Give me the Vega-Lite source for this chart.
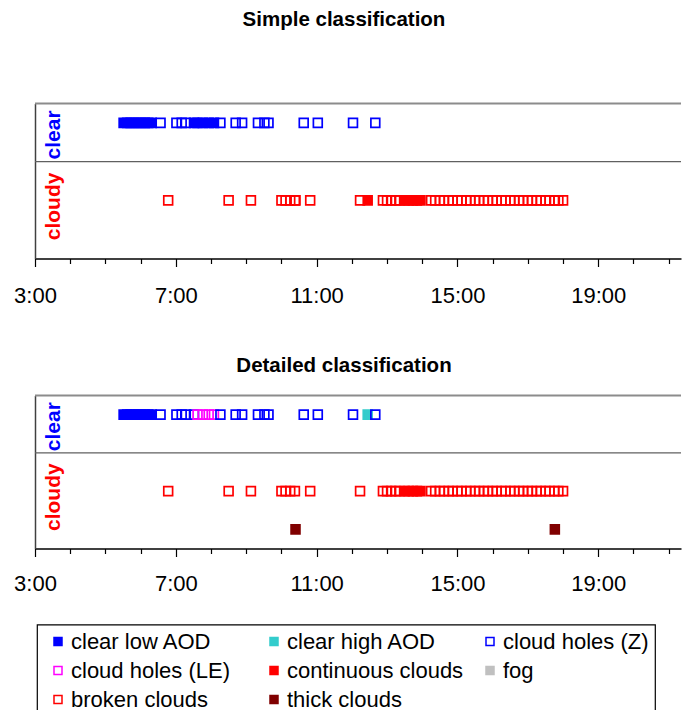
{
  "$schema": "https://vega.github.io/schema/vega-lite/v6.json",
  "padding": {"left": 13, "top": 9.5, "right": 0, "bottom": 0},
  "data": {
    "format": {"parse": {"time": "date:'%H:%M'"}},
    "values": [
      {"panel": "simple", "time": "05:31", "class": "clear low AOD", "sky": "clear"},
      {"panel": "simple", "time": "05:37", "class": "clear low AOD", "sky": "clear"},
      {"panel": "simple", "time": "05:43", "class": "clear low AOD", "sky": "clear"},
      {"panel": "simple", "time": "05:49", "class": "clear low AOD", "sky": "clear"},
      {"panel": "simple", "time": "05:55", "class": "clear low AOD", "sky": "clear"},
      {"panel": "simple", "time": "06:01", "class": "clear low AOD", "sky": "clear"},
      {"panel": "simple", "time": "06:07", "class": "clear low AOD", "sky": "clear"},
      {"panel": "simple", "time": "06:13", "class": "clear low AOD", "sky": "clear"},
      {"panel": "simple", "time": "06:19", "class": "clear low AOD", "sky": "clear"},
      {"panel": "simple", "time": "07:31", "class": "clear low AOD", "sky": "clear"},
      {"panel": "simple", "time": "07:37", "class": "clear low AOD", "sky": "clear"},
      {"panel": "simple", "time": "07:46", "class": "clear low AOD", "sky": "clear"},
      {"panel": "simple", "time": "07:56", "class": "clear low AOD", "sky": "clear"},
      {"panel": "simple", "time": "08:05", "class": "clear low AOD", "sky": "clear"},
      {"panel": "simple", "time": "06:34", "class": "cloud holes (Z)", "sky": "clear"},
      {"panel": "simple", "time": "07:01", "class": "cloud holes (Z)", "sky": "clear"},
      {"panel": "simple", "time": "07:10", "class": "cloud holes (Z)", "sky": "clear"},
      {"panel": "simple", "time": "07:17", "class": "cloud holes (Z)", "sky": "clear"},
      {"panel": "simple", "time": "08:16", "class": "cloud holes (Z)", "sky": "clear"},
      {"panel": "simple", "time": "08:42", "class": "cloud holes (Z)", "sky": "clear"},
      {"panel": "simple", "time": "08:53", "class": "cloud holes (Z)", "sky": "clear"},
      {"panel": "simple", "time": "09:20", "class": "cloud holes (Z)", "sky": "clear"},
      {"panel": "simple", "time": "09:31", "class": "cloud holes (Z)", "sky": "clear"},
      {"panel": "simple", "time": "09:38", "class": "cloud holes (Z)", "sky": "clear"},
      {"panel": "simple", "time": "10:38", "class": "cloud holes (Z)", "sky": "clear"},
      {"panel": "simple", "time": "11:02", "class": "cloud holes (Z)", "sky": "clear"},
      {"panel": "simple", "time": "12:02", "class": "cloud holes (Z)", "sky": "clear"},
      {"panel": "simple", "time": "12:40", "class": "cloud holes (Z)", "sky": "clear"},
      {"panel": "simple", "time": "06:47", "class": "broken clouds", "sky": "cloudy"},
      {"panel": "simple", "time": "08:30", "class": "broken clouds", "sky": "cloudy"},
      {"panel": "simple", "time": "09:08", "class": "broken clouds", "sky": "cloudy"},
      {"panel": "simple", "time": "10:00", "class": "broken clouds", "sky": "cloudy"},
      {"panel": "simple", "time": "10:07", "class": "broken clouds", "sky": "cloudy"},
      {"panel": "simple", "time": "10:15", "class": "broken clouds", "sky": "cloudy"},
      {"panel": "simple", "time": "10:23", "class": "broken clouds", "sky": "cloudy"},
      {"panel": "simple", "time": "10:24", "class": "broken clouds", "sky": "cloudy"},
      {"panel": "simple", "time": "10:49", "class": "broken clouds", "sky": "cloudy"},
      {"panel": "simple", "time": "12:14", "class": "broken clouds", "sky": "cloudy"},
      {"panel": "simple", "time": "12:27", "class": "continuous clouds", "sky": "cloudy"},
      {"panel": "simple", "time": "12:53", "class": "broken clouds", "sky": "cloudy"},
      {"panel": "simple", "time": "13:00", "class": "broken clouds", "sky": "cloudy"},
      {"panel": "simple", "time": "13:07", "class": "broken clouds", "sky": "cloudy"},
      {"panel": "simple", "time": "13:14", "class": "broken clouds", "sky": "cloudy"},
      {"panel": "simple", "time": "13:21", "class": "broken clouds", "sky": "cloudy"},
      {"panel": "simple", "time": "13:30", "class": "continuous clouds", "sky": "cloudy"},
      {"panel": "simple", "time": "13:37", "class": "continuous clouds", "sky": "cloudy"},
      {"panel": "simple", "time": "13:44", "class": "continuous clouds", "sky": "cloudy"},
      {"panel": "simple", "time": "13:51", "class": "continuous clouds", "sky": "cloudy"},
      {"panel": "simple", "time": "13:57", "class": "continuous clouds", "sky": "cloudy"},
      {"panel": "simple", "time": "14:15", "class": "broken clouds", "sky": "cloudy"},
      {"panel": "simple", "time": "14:22", "class": "broken clouds", "sky": "cloudy"},
      {"panel": "simple", "time": "14:30", "class": "broken clouds", "sky": "cloudy"},
      {"panel": "simple", "time": "14:37", "class": "broken clouds", "sky": "cloudy"},
      {"panel": "simple", "time": "14:45", "class": "broken clouds", "sky": "cloudy"},
      {"panel": "simple", "time": "14:52", "class": "broken clouds", "sky": "cloudy"},
      {"panel": "simple", "time": "15:00", "class": "broken clouds", "sky": "cloudy"},
      {"panel": "simple", "time": "15:07", "class": "broken clouds", "sky": "cloudy"},
      {"panel": "simple", "time": "15:15", "class": "broken clouds", "sky": "cloudy"},
      {"panel": "simple", "time": "15:22", "class": "broken clouds", "sky": "cloudy"},
      {"panel": "simple", "time": "15:30", "class": "broken clouds", "sky": "cloudy"},
      {"panel": "simple", "time": "15:37", "class": "broken clouds", "sky": "cloudy"},
      {"panel": "simple", "time": "15:45", "class": "broken clouds", "sky": "cloudy"},
      {"panel": "simple", "time": "15:52", "class": "broken clouds", "sky": "cloudy"},
      {"panel": "simple", "time": "16:00", "class": "broken clouds", "sky": "cloudy"},
      {"panel": "simple", "time": "16:07", "class": "broken clouds", "sky": "cloudy"},
      {"panel": "simple", "time": "16:15", "class": "broken clouds", "sky": "cloudy"},
      {"panel": "simple", "time": "16:22", "class": "broken clouds", "sky": "cloudy"},
      {"panel": "simple", "time": "16:30", "class": "broken clouds", "sky": "cloudy"},
      {"panel": "simple", "time": "16:37", "class": "broken clouds", "sky": "cloudy"},
      {"panel": "simple", "time": "16:45", "class": "broken clouds", "sky": "cloudy"},
      {"panel": "simple", "time": "16:52", "class": "broken clouds", "sky": "cloudy"},
      {"panel": "simple", "time": "17:00", "class": "broken clouds", "sky": "cloudy"},
      {"panel": "simple", "time": "17:07", "class": "broken clouds", "sky": "cloudy"},
      {"panel": "simple", "time": "17:15", "class": "broken clouds", "sky": "cloudy"},
      {"panel": "simple", "time": "17:22", "class": "broken clouds", "sky": "cloudy"},
      {"panel": "simple", "time": "17:30", "class": "broken clouds", "sky": "cloudy"},
      {"panel": "simple", "time": "17:37", "class": "broken clouds", "sky": "cloudy"},
      {"panel": "simple", "time": "17:45", "class": "broken clouds", "sky": "cloudy"},
      {"panel": "simple", "time": "17:46", "class": "broken clouds", "sky": "cloudy"},
      {"panel": "simple", "time": "17:52", "class": "broken clouds", "sky": "cloudy"},
      {"panel": "simple", "time": "18:00", "class": "broken clouds", "sky": "cloudy"},

      {"panel": "detailed", "time": "05:31", "class": "clear low AOD", "sky": "clear"},
      {"panel": "detailed", "time": "05:37", "class": "clear low AOD", "sky": "clear"},
      {"panel": "detailed", "time": "05:43", "class": "clear low AOD", "sky": "clear"},
      {"panel": "detailed", "time": "05:49", "class": "clear low AOD", "sky": "clear"},
      {"panel": "detailed", "time": "05:55", "class": "clear low AOD", "sky": "clear"},
      {"panel": "detailed", "time": "06:01", "class": "clear low AOD", "sky": "clear"},
      {"panel": "detailed", "time": "06:07", "class": "clear low AOD", "sky": "clear"},
      {"panel": "detailed", "time": "06:13", "class": "clear low AOD", "sky": "clear"},
      {"panel": "detailed", "time": "06:19", "class": "clear low AOD", "sky": "clear"},
      {"panel": "detailed", "time": "06:34", "class": "cloud holes (Z)", "sky": "clear"},
      {"panel": "detailed", "time": "07:01", "class": "cloud holes (Z)", "sky": "clear"},
      {"panel": "detailed", "time": "07:10", "class": "cloud holes (Z)", "sky": "clear"},
      {"panel": "detailed", "time": "07:17", "class": "cloud holes (Z)", "sky": "clear"},
      {"panel": "detailed", "time": "07:31", "class": "cloud holes (Z)", "sky": "clear"},
      {"panel": "detailed", "time": "07:37", "class": "cloud holes (LE)", "sky": "clear"},
      {"panel": "detailed", "time": "07:46", "class": "cloud holes (LE)", "sky": "clear"},
      {"panel": "detailed", "time": "07:56", "class": "cloud holes (LE)", "sky": "clear"},
      {"panel": "detailed", "time": "08:05", "class": "cloud holes (LE)", "sky": "clear"},
      {"panel": "detailed", "time": "08:16", "class": "cloud holes (Z)", "sky": "clear"},
      {"panel": "detailed", "time": "08:42", "class": "cloud holes (Z)", "sky": "clear"},
      {"panel": "detailed", "time": "08:53", "class": "cloud holes (Z)", "sky": "clear"},
      {"panel": "detailed", "time": "09:20", "class": "cloud holes (Z)", "sky": "clear"},
      {"panel": "detailed", "time": "09:31", "class": "cloud holes (Z)", "sky": "clear"},
      {"panel": "detailed", "time": "09:38", "class": "cloud holes (Z)", "sky": "clear"},
      {"panel": "detailed", "time": "10:38", "class": "cloud holes (Z)", "sky": "clear"},
      {"panel": "detailed", "time": "11:02", "class": "cloud holes (Z)", "sky": "clear"},
      {"panel": "detailed", "time": "12:02", "class": "cloud holes (Z)", "sky": "clear"},
      {"panel": "detailed", "time": "12:27", "class": "clear high AOD", "sky": "clear"},
      {"panel": "detailed", "time": "12:40", "class": "cloud holes (Z)", "sky": "clear"},
      {"panel": "detailed", "time": "06:47", "class": "broken clouds", "sky": "cloudy"},
      {"panel": "detailed", "time": "08:30", "class": "broken clouds", "sky": "cloudy"},
      {"panel": "detailed", "time": "09:08", "class": "broken clouds", "sky": "cloudy"},
      {"panel": "detailed", "time": "10:00", "class": "broken clouds", "sky": "cloudy"},
      {"panel": "detailed", "time": "10:07", "class": "broken clouds", "sky": "cloudy"},
      {"panel": "detailed", "time": "10:15", "class": "broken clouds", "sky": "cloudy"},
      {"panel": "detailed", "time": "10:23", "class": "broken clouds", "sky": "cloudy"},
      {"panel": "detailed", "time": "10:49", "class": "broken clouds", "sky": "cloudy"},
      {"panel": "detailed", "time": "12:14", "class": "broken clouds", "sky": "cloudy"},
      {"panel": "detailed", "time": "12:53", "class": "broken clouds", "sky": "cloudy"},
      {"panel": "detailed", "time": "13:00", "class": "broken clouds", "sky": "cloudy"},
      {"panel": "detailed", "time": "13:07", "class": "broken clouds", "sky": "cloudy"},
      {"panel": "detailed", "time": "13:14", "class": "broken clouds", "sky": "cloudy"},
      {"panel": "detailed", "time": "13:21", "class": "broken clouds", "sky": "cloudy"},
      {"panel": "detailed", "time": "13:30", "class": "continuous clouds", "sky": "cloudy"},
      {"panel": "detailed", "time": "13:37", "class": "continuous clouds", "sky": "cloudy"},
      {"panel": "detailed", "time": "13:44", "class": "continuous clouds", "sky": "cloudy"},
      {"panel": "detailed", "time": "13:51", "class": "continuous clouds", "sky": "cloudy"},
      {"panel": "detailed", "time": "13:57", "class": "continuous clouds", "sky": "cloudy"},
      {"panel": "detailed", "time": "14:15", "class": "broken clouds", "sky": "cloudy"},
      {"panel": "detailed", "time": "14:22", "class": "broken clouds", "sky": "cloudy"},
      {"panel": "detailed", "time": "14:30", "class": "broken clouds", "sky": "cloudy"},
      {"panel": "detailed", "time": "14:37", "class": "broken clouds", "sky": "cloudy"},
      {"panel": "detailed", "time": "14:45", "class": "broken clouds", "sky": "cloudy"},
      {"panel": "detailed", "time": "14:52", "class": "broken clouds", "sky": "cloudy"},
      {"panel": "detailed", "time": "15:00", "class": "broken clouds", "sky": "cloudy"},
      {"panel": "detailed", "time": "15:07", "class": "broken clouds", "sky": "cloudy"},
      {"panel": "detailed", "time": "15:15", "class": "broken clouds", "sky": "cloudy"},
      {"panel": "detailed", "time": "15:22", "class": "broken clouds", "sky": "cloudy"},
      {"panel": "detailed", "time": "15:30", "class": "broken clouds", "sky": "cloudy"},
      {"panel": "detailed", "time": "15:37", "class": "broken clouds", "sky": "cloudy"},
      {"panel": "detailed", "time": "15:45", "class": "broken clouds", "sky": "cloudy"},
      {"panel": "detailed", "time": "15:52", "class": "broken clouds", "sky": "cloudy"},
      {"panel": "detailed", "time": "16:00", "class": "broken clouds", "sky": "cloudy"},
      {"panel": "detailed", "time": "16:07", "class": "broken clouds", "sky": "cloudy"},
      {"panel": "detailed", "time": "16:15", "class": "broken clouds", "sky": "cloudy"},
      {"panel": "detailed", "time": "16:22", "class": "broken clouds", "sky": "cloudy"},
      {"panel": "detailed", "time": "16:30", "class": "broken clouds", "sky": "cloudy"},
      {"panel": "detailed", "time": "16:37", "class": "broken clouds", "sky": "cloudy"},
      {"panel": "detailed", "time": "16:45", "class": "broken clouds", "sky": "cloudy"},
      {"panel": "detailed", "time": "16:52", "class": "broken clouds", "sky": "cloudy"},
      {"panel": "detailed", "time": "17:00", "class": "broken clouds", "sky": "cloudy"},
      {"panel": "detailed", "time": "17:07", "class": "broken clouds", "sky": "cloudy"},
      {"panel": "detailed", "time": "17:15", "class": "broken clouds", "sky": "cloudy"},
      {"panel": "detailed", "time": "17:22", "class": "broken clouds", "sky": "cloudy"},
      {"panel": "detailed", "time": "17:30", "class": "broken clouds", "sky": "cloudy"},
      {"panel": "detailed", "time": "17:37", "class": "broken clouds", "sky": "cloudy"},
      {"panel": "detailed", "time": "17:45", "class": "broken clouds", "sky": "cloudy"},
      {"panel": "detailed", "time": "17:52", "class": "broken clouds", "sky": "cloudy"},
      {"panel": "detailed", "time": "18:00", "class": "broken clouds", "sky": "cloudy"},
      {"panel": "detailed", "time": "10:24", "class": "thick clouds", "sky": "thick"},
      {"panel": "detailed", "time": "17:46", "class": "thick clouds", "sky": "thick"}
    ]
  },
  "spacing": 49,
  "vconcat": [
    {
      "title": {"text": "Simple classification", "offset": 72},
      "width": 646,
      "height": 155,
      "layer": [
        {
          "data": {"values": [{}]},
          "mark": {"type": "rule", "color": "#8c8c8c", "strokeWidth": 2},
          "encoding": {"y": {"datum": "clear", "type": "nominal", "bandPosition": 0}}
        },
        {
          "data": {"values": [{}]},
          "mark": {"type": "rule", "color": "#606060", "strokeWidth": 1.2},
          "encoding": {"y": {"datum": "sep", "type": "nominal", "bandPosition": 0.5}}
        },
        {
          "transform": [{"filter": "datum.panel == 'simple'"}],
          "mark": {"type": "point", "shape": "square", "size": 78, "strokeWidth": 1.7, "opacity": 1},
          "encoding": {
            "x": {
              "field": "time", "type": "temporal",
              "scale": {"domain": [{"year": 1900, "month": 1, "date": 1, "hours": 3}, {"year": 1900, "month": 1, "date": 1, "hours": 21, "minutes": 21}]},
              "axis": {
                "title": null, "grid": false,
                "values": [
                  {"year": 1900, "month": 1, "date": 1, "hours": 3}, {"year": 1900, "month": 1, "date": 1, "hours": 4}, {"year": 1900, "month": 1, "date": 1, "hours": 5},
                  {"year": 1900, "month": 1, "date": 1, "hours": 6}, {"year": 1900, "month": 1, "date": 1, "hours": 7}, {"year": 1900, "month": 1, "date": 1, "hours": 8},
                  {"year": 1900, "month": 1, "date": 1, "hours": 9}, {"year": 1900, "month": 1, "date": 1, "hours": 10}, {"year": 1900, "month": 1, "date": 1, "hours": 11},
                  {"year": 1900, "month": 1, "date": 1, "hours": 12}, {"year": 1900, "month": 1, "date": 1, "hours": 13}, {"year": 1900, "month": 1, "date": 1, "hours": 14},
                  {"year": 1900, "month": 1, "date": 1, "hours": 15}, {"year": 1900, "month": 1, "date": 1, "hours": 16}, {"year": 1900, "month": 1, "date": 1, "hours": 17},
                  {"year": 1900, "month": 1, "date": 1, "hours": 18}, {"year": 1900, "month": 1, "date": 1, "hours": 19}, {"year": 1900, "month": 1, "date": 1, "hours": 20},
                  {"year": 1900, "month": 1, "date": 1, "hours": 21}
                ],
                "labelExpr": "hours(datum.value) % 4 == 3 ? timeFormat(datum.value, '%-H:%M') : ''",
                "tickSize": {"condition": {"test": "hours(datum.value) % 4 == 3", "value": 8}, "value": 5},
                "tickColor": "black", "tickWidth": 1.2,
                "domainColor": "black", "domainWidth": 1.5,
                "labelFont": "Liberation Sans", "labelFontSize": 22, "labelColor": "black",
                "labelPadding": 18.5, "labelOverlap": false, "labelFlush": false
              }
            },
            "y": {
              "field": "sky", "type": "nominal", "bandPosition": 0.5,
              "scale": {"type": "band", "domain": ["clear", "sep", "cloudy", "thick"], "paddingInner": 0, "paddingOuter": 0},
              "axis": {
                "title": null, "ticks": false, "tickSize": 0,
                "domainColor": "#404040", "domainWidth": 1.5,
                "labelExpr": "datum.value == 'clear' || datum.value == 'cloudy' ? datum.value : ''",
                "labelAngle": -90, "labelAlign": "center", "labelBaseline": "alphabetic",
                "labelPadding": -24,
                "labelOffset": {"condition": {"test": "datum.value == 'clear'", "value": 12}, "value": 6},
                "labelColor": {"condition": {"test": "datum.value == 'clear'", "value": "#0000ff"}, "value": "#ff0000"},
                "labelFont": "Liberation Sans", "labelFontSize": 21, "labelFontWeight": "bold"
              }
            },
            "fill": {
              "field": "class", "type": "nominal",
              "scale": {
                "domain": ["clear low AOD", "clear high AOD", "cloud holes (Z)", "cloud holes (LE)", "continuous clouds", "fog", "broken clouds", "thick clouds"],
                "range": ["#0000ff", "#33cccc", "transparent", "transparent", "#ff0000", "#c0c0c0", "transparent", "#800000"]
              },
              "legend": {"title": null}
            },
            "stroke": {
              "field": "class", "type": "nominal",
              "scale": {
                "domain": ["clear low AOD", "clear high AOD", "cloud holes (Z)", "cloud holes (LE)", "continuous clouds", "fog", "broken clouds", "thick clouds"],
                "range": ["#0000ff", "#33cccc", "#0000ff", "#ff00ff", "#ff0000", "#c0c0c0", "#ff0000", "#800000"]
              },
              "legend": {"title": null}
            }
          }
        }
      ]
    },
    {
      "title": {"text": "Detailed classification", "offset": 18},
      "width": 646,
      "height": 153,
      "layer": [
        {
          "data": {"values": [{}]},
          "mark": {"type": "rule", "color": "#8c8c8c", "strokeWidth": 2},
          "encoding": {"y": {"datum": "clear", "type": "nominal", "bandPosition": 0}}
        },
        {
          "data": {"values": [{}]},
          "mark": {"type": "rule", "color": "#606060", "strokeWidth": 1.2},
          "encoding": {"y": {"datum": "sep", "type": "nominal", "bandPosition": 0.5}}
        },
        {
          "transform": [{"filter": "datum.panel == 'detailed'"}],
          "mark": {"type": "point", "shape": "square", "size": 78, "strokeWidth": 1.7, "opacity": 1},
          "encoding": {
            "x": {
              "field": "time", "type": "temporal",
              "scale": {"domain": [{"year": 1900, "month": 1, "date": 1, "hours": 3}, {"year": 1900, "month": 1, "date": 1, "hours": 21, "minutes": 21}]},
              "axis": {
                "title": null, "grid": false,
                "values": [
                  {"year": 1900, "month": 1, "date": 1, "hours": 3}, {"year": 1900, "month": 1, "date": 1, "hours": 4}, {"year": 1900, "month": 1, "date": 1, "hours": 5},
                  {"year": 1900, "month": 1, "date": 1, "hours": 6}, {"year": 1900, "month": 1, "date": 1, "hours": 7}, {"year": 1900, "month": 1, "date": 1, "hours": 8},
                  {"year": 1900, "month": 1, "date": 1, "hours": 9}, {"year": 1900, "month": 1, "date": 1, "hours": 10}, {"year": 1900, "month": 1, "date": 1, "hours": 11},
                  {"year": 1900, "month": 1, "date": 1, "hours": 12}, {"year": 1900, "month": 1, "date": 1, "hours": 13}, {"year": 1900, "month": 1, "date": 1, "hours": 14},
                  {"year": 1900, "month": 1, "date": 1, "hours": 15}, {"year": 1900, "month": 1, "date": 1, "hours": 16}, {"year": 1900, "month": 1, "date": 1, "hours": 17},
                  {"year": 1900, "month": 1, "date": 1, "hours": 18}, {"year": 1900, "month": 1, "date": 1, "hours": 19}, {"year": 1900, "month": 1, "date": 1, "hours": 20},
                  {"year": 1900, "month": 1, "date": 1, "hours": 21}
                ],
                "labelExpr": "hours(datum.value) % 4 == 3 ? timeFormat(datum.value, '%-H:%M') : ''",
                "tickSize": {"condition": {"test": "hours(datum.value) % 4 == 3", "value": 8}, "value": 5},
                "tickColor": "black", "tickWidth": 1.2,
                "domainColor": "black", "domainWidth": 1.5,
                "labelFont": "Liberation Sans", "labelFontSize": 22, "labelColor": "black",
                "labelPadding": 16.5, "labelOverlap": false, "labelFlush": false
              }
            },
            "y": {
              "field": "sky", "type": "nominal", "bandPosition": 0.5,
              "scale": {"type": "band", "domain": ["clear", "sep", "cloudy", "thick"], "paddingInner": 0, "paddingOuter": 0},
              "axis": {
                "title": null, "ticks": false, "tickSize": 0,
                "domainColor": "#404040", "domainWidth": 1.5,
                "labelExpr": "datum.value == 'clear' || datum.value == 'cloudy' ? datum.value : ''",
                "labelAngle": -90, "labelAlign": "center", "labelBaseline": "alphabetic",
                "labelPadding": -24,
                "labelOffset": {"condition": {"test": "datum.value == 'clear'", "value": 12}, "value": 6},
                "labelColor": {"condition": {"test": "datum.value == 'clear'", "value": "#0000ff"}, "value": "#ff0000"},
                "labelFont": "Liberation Sans", "labelFontSize": 21, "labelFontWeight": "bold"
              }
            },
            "fill": {
              "field": "class", "type": "nominal",
              "scale": {
                "domain": ["clear low AOD", "clear high AOD", "cloud holes (Z)", "cloud holes (LE)", "continuous clouds", "fog", "broken clouds", "thick clouds"],
                "range": ["#0000ff", "#33cccc", "transparent", "transparent", "#ff0000", "#c0c0c0", "transparent", "#800000"]
              },
              "legend": {"title": null}
            },
            "stroke": {
              "field": "class", "type": "nominal",
              "scale": {
                "domain": ["clear low AOD", "clear high AOD", "cloud holes (Z)", "cloud holes (LE)", "continuous clouds", "fog", "broken clouds", "thick clouds"],
                "range": ["#0000ff", "#33cccc", "#0000ff", "#ff00ff", "#ff0000", "#c0c0c0", "#ff0000", "#800000"]
              },
              "legend": {"title": null}
            }
          }
        }
      ]
    }
  ],
  "resolve": {"scale": {"fill": "shared", "stroke": "shared"}, "legend": {"fill": "shared", "stroke": "shared"}},
  "config": {
    "view": {"stroke": null},
    "font": "Liberation Sans",
    "title": {"font": "Liberation Sans", "fontSize": 20.5, "fontWeight": "bold", "color": "black", "anchor": "middle", "dx": -14},
    "legend": {
      "orient": "none", "legendX": 2, "legendY": 521,
      "columns": 3, "direction": "horizontal", "gridAlign": "all",
      "symbolType": "square", "symbolSize": 64, "symbolStrokeWidth": 1.5,
      "labelFont": "Liberation Sans", "labelFontSize": 22, "labelColor": "black", "labelLimit": 400,
      "labelOffset": 2, "symbolOffset": 4,
      "rowPadding": 7, "columnPadding": 11, "padding": 6,
      "strokeColor": "black", "strokeWidth": 1.2
    }
  }
}
